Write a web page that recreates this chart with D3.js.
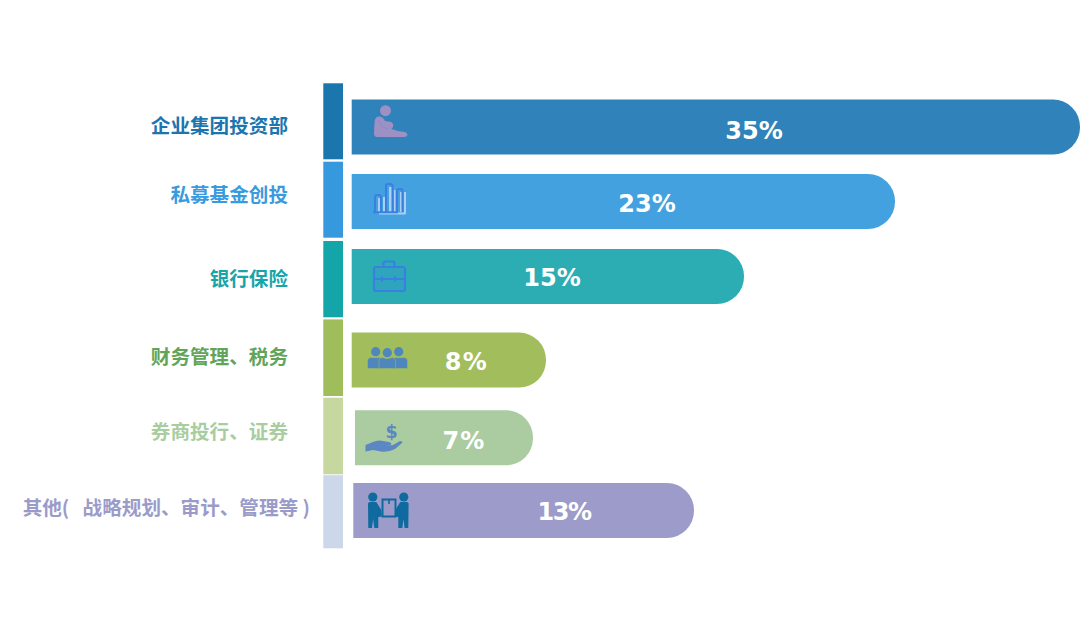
<!DOCTYPE html>
<html lang="zh">
<head>
<meta charset="utf-8">
<title>投资背景分布</title>
<script src="https://cdn.jsdelivr.net/npm/d3@7/dist/d3.min.js"></script>
<style>
  html, body { margin: 0; padding: 0; background: #fff; }
  svg { display: block; }
  .name { white-space: pre; }
</style>
</head>
<body>
<svg id="chart" width="1080" height="639"></svg>
<script>
// Chart values
const categories = ["企业集团投资部", "私募基金创投", "银行保险", "财务管理、税务", "券商投行、证券", "其他(   战略规划、审计、管理等 )"];
const shares = [35, 23, 15, 8, 7, 13];

// Colours per row
const stripColors = ["#1b76ae", "#3699dd", "#14a5a9", "#a0bd5b", "#c6d8a0", "#cdd7ea"];
const barColors = ["#2f83ba", "#44a1e0", "#2cadb4", "#a1bd5c", "#abcba0", "#9c9bca"];
const textColors = ["#1b75ae", "#3a9ade", "#17a5a9", "#62a45a", "#a8cd9f", "#9b9bca"];

// Layout per row
const stripTops = [83.3, 161.7, 241, 319.4, 397.7, 475.2];
const stripBottoms = [159.3, 237.7, 317.3, 396, 474.3, 548.3];
const barTops = [99.5, 174, 249, 332.6, 410.3, 483];
const barStarts = [351.7, 351.7, 351.7, 351.7, 355, 353.3];
const nameCenters = [124, 193, 277, 355, 430, 506];
const nameEnds = [288, 288, 288, 288, 288, 310];
const valueCenters = [754, 647, 552, 466.5, 464, 564];
const valueBaselines = [138.5, 211.5, 285.5, 370, 449, 520];
const valueTracking = [0, 0, 0, 1.5, 1.2, -1.5];

const barHeight = 55, radius = 27;

// Bar ends follow a stepped length scale, so each share maps to its own end
const xEnd = d3.scaleLinear()
  .domain([7, 8, 13, 15, 23, 35])
  .range([533, 546, 694, 744, 895, 1080]);

const svg = d3.select("#chart");
const rows = categories.map((name, i) => ({ name, value: shares[i], i }));

// Coloured strip between the names and the bars
svg.append("g").selectAll("rect").data(rows).join("rect")
  .attr("x", 323.3).attr("width", 19.7)
  .attr("y", d => stripTops[d.i])
  .attr("height", d => stripBottoms[d.i] - stripTops[d.i])
  .attr("fill", d => stripColors[d.i]);

// Bars: square on the left, rounded on the right
function barPath(d) {
  const x0 = barStarts[d.i], x1 = xEnd(d.value), y0 = barTops[d.i], y1 = y0 + barHeight;
  const p = d3.path();
  p.moveTo(x0, y0);
  p.lineTo(x1 - radius, y0);
  p.arcTo(x1, y0, x1, y0 + radius, radius);
  p.lineTo(x1, y1 - radius);
  p.arcTo(x1, y1, x1 - radius, y1, radius);
  p.lineTo(x0, y1);
  p.closePath();
  return p.toString();
}
svg.append("g").selectAll("path").data(rows).join("path")
  .attr("d", barPath)
  .attr("fill", d => barColors[d.i]);

// Row names
svg.append("g").selectAll("text").data(rows).join("text")
  .attr("class", "name")
  .attr("x", d => nameEnds[d.i])
  .attr("y", d => nameCenters[d.i])
  .attr("text-anchor", "end")
  .attr("dominant-baseline", "central")
  .attr("font-family", "'Noto Sans CJK SC', sans-serif")
  .attr("font-weight", 700)
  .attr("font-size", 19.6)
  .attr("fill", d => textColors[d.i])
  .text(d => d.name);

// Share labels
svg.append("g").selectAll("text").data(rows).join("text")
  .attr("x", d => valueCenters[d.i])
  .attr("y", d => valueBaselines[d.i])
  .attr("text-anchor", "middle")
  .attr("font-family", "'DejaVu Sans', sans-serif")
  .attr("font-weight", 700)
  .attr("font-size", 24)
  .attr("letter-spacing", d => valueTracking[d.i])
  .attr("fill", "#fff")
  .text(d => d.value + "%");

// Row icons
const icons = svg.append("g");

// Seated figure
const sit = icons.append("g").attr("fill", "#9c90c5");
sit.append("circle").attr("cx", 385.5).attr("cy", 110.7).attr("r", 5.5);
sit.append("path").attr("d", "M374,133 L374.5,122 Q375,116.5 379,116.5 Q383,116.5 385,121 L391,122 Q394,123.5 393,127 L391.5,129 L398,131 L405,132 Q407.5,133 407.5,135 Q407,137 404,137 L377,137 Q374,137 374,133Z");
icons.append("path").attr("d", "M379,120 Q380,127 388,129").attr("fill", "none").attr("stroke", "#7f8dc0").attr("stroke-width", 0.8);

// Column chart glyph
const cols = icons.append("g");
cols.append("path").attr("d", "M379,213.5 H405.5 M405,192 V213.5")
  .attr("fill", "none").attr("stroke", "#a9d0f2").attr("stroke-width", 2);
cols.append("g").attr("fill", "#a9d0f2").selectAll("rect")
  .data([[378, 198, 3], [389, 187, 3], [400, 192, 2.5], [383, 197, 2.4], [394, 190, 1.5]]).join("rect")
  .attr("x", d => d[0]).attr("y", d => d[1]).attr("width", d => d[2]).attr("height", d => 212 - d[1]);
cols.append("path")
  .attr("d", "M375,212 V197 Q375,195 377,195 H379 Q381,195 381,197 V212 M386,212 V186 Q386,184 388,184 H390.5 Q392.5,184 392.5,186 V212 M397,212 V191 Q397,189 399,189 H400.5 Q402.5,189 402.5,191 V212 M373,212.3 H398")
  .attr("fill", "none").attr("stroke", "#3a80e2").attr("stroke-width", 2);

// Briefcase
const brief = icons.append("g").attr("fill", "none").attr("stroke", "#3a80e2").attr("stroke-width", 2.2);
brief.append("rect").attr("x", 374).attr("y", 267).attr("width", 31).attr("height", 24).attr("rx", 2).attr("fill", "#2ea5bd");
brief.append("path").attr("d", "M383.5,267 V263 Q383.5,261.5 385,261.5 H393 Q394.5,261.5 394.5,263 V267 M374,279 H405 M382,276.5 V281.5 M395,276.5 V281.5");

// Three colleagues
const team = icons.append("g").attr("fill", "#4f86bd");
const teamHeads = [[375.7, 351.7, 367.5, 383], [398.7, 351.7, 392, 407.5], [387.3, 352.7, 379, 395.5]];
teamHeads.forEach(([cx, cy, x0, x1]) => {
  team.append("circle").attr("cx", cx).attr("cy", cy).attr("r", 4.6);
  team.append("path")
    .attr("d", `M${x0},368.5 V361 Q${x0},358 ${x0 + 3},357.5 L${cx},${cy + 6} L${x1 - 3},357.5 Q${x1},358 ${x1},361 V368.5 Z`)
    .attr("stroke", barColors[3]).attr("stroke-width", 0.5);
});

// Open hand holding a dollar sign
icons.append("text").attr("x", 391.5).attr("y", 438).attr("text-anchor", "middle")
  .attr("font-family", "'DejaVu Sans', sans-serif").attr("font-weight", 700).attr("font-size", 17.5)
  .attr("fill", "#5b87c2").text("$");
icons.append("path")
  .attr("d", "M365.5,445 L373,442 Q378,439.5 383,441 L389,442 Q392,443 391,445 L386,446 L393,445 L400,441 Q403,441 402,443 L395,449 Q388,452.5 381,451.5 L373,450 L365.5,451.5 Z")
  .attr("fill", "#5b87c2");

// Two movers carrying a box
const movers = icons.append("g").attr("fill", "#0f6a9f");
movers.append("rect").attr("x", 382.5).attr("y", 499.5).attr("width", 13).attr("height", 17)
  .attr("fill", "none").attr("stroke", "#0f6a9f").attr("stroke-width", 2);
movers.append("path").attr("d", "M389,500 V504").attr("stroke", "#0f6a9f").attr("stroke-width", 1.6);
[[372.8, 1], [403.8, -1]].forEach(([cx, dir]) => {
  movers.append("circle").attr("cx", cx).attr("cy", 497).attr("r", 4.6);
  const at = v => cx + dir * v;
  movers.append("path").attr("d",
    `M${at(-4.8)},503.5 Q${at(-4.5)},502 ${at(-3)},502 L${at(3.5)},502 L${at(8.5)},510 L${at(9)},516.5 L${at(5.5)},517 L${at(5.5)},528 L${at(1.5)},528 L${at(0.3)},519 L${at(-0.8)},528 L${at(-4.5)},528 Z`);
});
</script>
</body>
</html>
